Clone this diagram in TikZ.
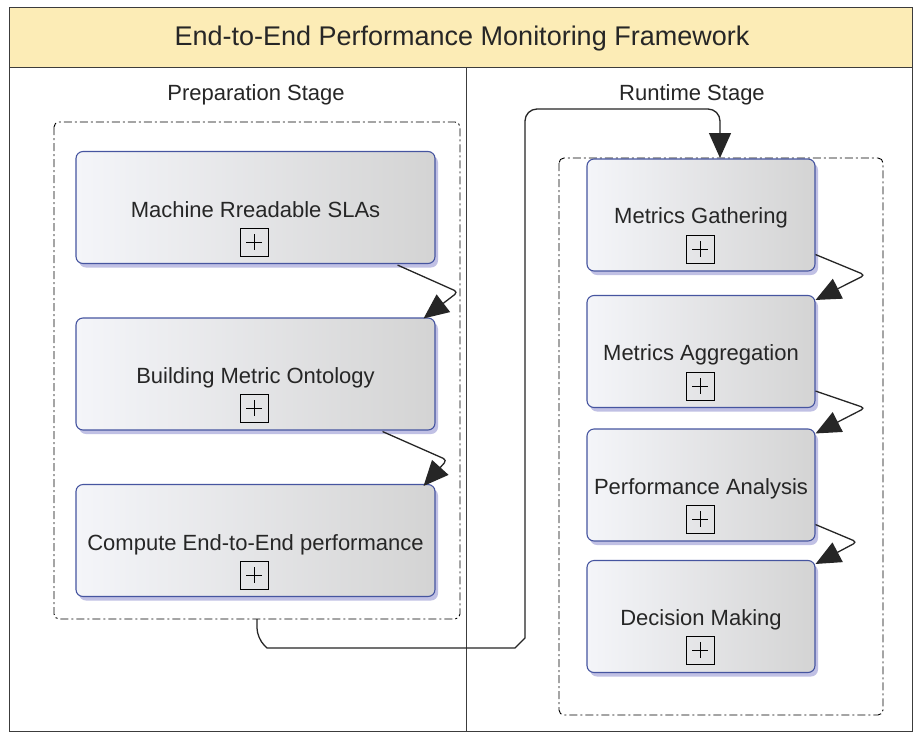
\documentclass[tikz,border=0pt]{standalone}
\usepackage{fontspec}
\setmainfont{Liberation Sans}
\usetikzlibrary{arrows.meta,shadows,calc}
\definecolor{titlefill}{RGB}{252,236,182}
\definecolor{boxblue}{RGB}{70,85,160}
\definecolor{framegray}{RGB}{60,60,60}
\definecolor{boxleft}{RGB}{244,245,249}
\tikzset{
  taskbox/.style={draw=boxblue, line width=1.1pt, rounded corners=7pt,
    left color=boxleft, right color=black!17,
    drop shadow={shadow xshift=3pt, shadow yshift=-4pt, fill=blue!40!gray, opacity=0.35},
    minimum height=112pt, inner sep=0pt},
  plusbox/.style={draw=black, line width=1pt, minimum size=28pt, inner sep=0pt, fill=none},
  container/.style={draw=black, line width=0.9pt, rounded corners=5pt,
    dash pattern=on 8pt off 3pt on 2pt off 3pt},
  flow/.style={draw=black!85, line width=1.3pt, -{Triangle[length=25pt,width=22pt]}},
  lbl/.style={font=\fontsize{22}{24}\selectfont, text=black!85, inner sep=0pt, anchor=center}
}
\begin{document}
\begin{tikzpicture}[x=1pt,y=-1pt]
\useasboundingbox (0,0) rectangle (914,732);
\fill[white] (0,0) rectangle (914,732);
% frame
\fill[titlefill] (9,7) rectangle (912,67);
\draw[framegray, line width=1pt] (9,7) rectangle (912,731);
\draw[framegray, line width=1pt] (9,67) -- (912,67);
\draw[framegray, line width=1pt] (466,67) -- (466,731);
\node[font=\fontsize{27}{30}\selectfont, text=black!85] (title) at (462,39) {End-to-End Performance Monitoring Framework};
\node[lbl] (prep) at (256,95) {Preparation Stage};
\node[lbl] (run) at (692,95) {Runtime Stage};
% containers
\draw[container] (54,122) rectangle (460,619);
\draw[container] (559,158) rectangle (883,715);
\coordinate (pcb) at (257,619);
\coordinate (rct) at (720,158);
% left boxes
\node[taskbox, minimum width=359pt] (m1) at (255.5,207.5) {};
\node[taskbox, minimum width=359pt] (m2) at (255.5,374) {};
\node[taskbox, minimum width=359pt] (m3) at (255.5,540.5) {};
\node[lbl] (t1) at (255.5,212.5) {\strut Machine Rreadable SLAs};
\node[plusbox] (p1) at (254,242) {};
\node[lbl] (t2) at (255.5,379) {\strut Building Metric Ontology};
\node[plusbox] (p2) at (254,408) {};
\node[lbl] (t3) at (255.5,545.5) {\strut Compute End-to-End performance};
\node[plusbox] (p3) at (254,575) {};
% right boxes
\node[taskbox, minimum width=228pt] (r1) at (701,215) {};
\node[taskbox, minimum width=228pt] (r2) at (701,351.5) {};
\node[taskbox, minimum width=228pt] (r3) at (701,485) {};
\node[taskbox, minimum width=228pt] (r4) at (701,616.5) {};
\node[lbl] (u1) at (701,219) {\strut Metrics Gathering};
\node[plusbox] (q1) at (700,249) {};
\node[lbl] (u2) at (701,356) {\strut Metrics Aggregation};
\node[plusbox] (q2) at (700,386) {};
\node[lbl] (u3) at (701,489.5) {\strut Performance Analysis};
\node[plusbox] (q3) at (700,519) {};
\node[lbl] (u4) at (701,621) {\strut Decision Making};
\node[plusbox] (q4) at (700,650) {};
% plus signs
\foreach \p in {p1,p2,p3,q1,q2,q3,q4}{
  \draw[line width=1pt] ($(\p.center)+(-8,0)$) -- ($(\p.center)+(8,0)$);
  \draw[line width=1pt] ($(\p.center)+(0,-8)$) -- ($(\p.center)+(0,8)$);
}
% connectors left
\draw[flow, rounded corners=4pt] ($(m1.south east)+(-38,1)$) -- (458,292) -- ($(m2.north east)+(-12,1)$);
\draw[flow, rounded corners=4pt] ($(m2.south east)+(-53,1)$) -- (447,460) -- ($(m3.north east)+(-12,2)$);
% connectors right
\draw[flow, rounded corners=4pt] ($(r1.south east)+(0,-17)$) -- (865,275) -- ($(r2.north east)+(0,5)$);
\draw[flow, rounded corners=4pt] ($(r2.south east)+(0,-17)$) -- (865,408) -- ($(r3.north east)+(0,5)$);
\draw[flow, rounded corners=4pt] ($(r3.south east)+(0,-17)$) -- (857,542) -- ($(r4.north east)+(0,4)$);
% long connector
\draw[flow, rounded corners=10pt] (pcb) -- (257,638) [sharp corners] -- (267,648) -- (515,648) -- (525,638) [rounded corners=12pt] -- (525,109) -- (720,109) -- (rct);
\end{tikzpicture}
\end{document}
